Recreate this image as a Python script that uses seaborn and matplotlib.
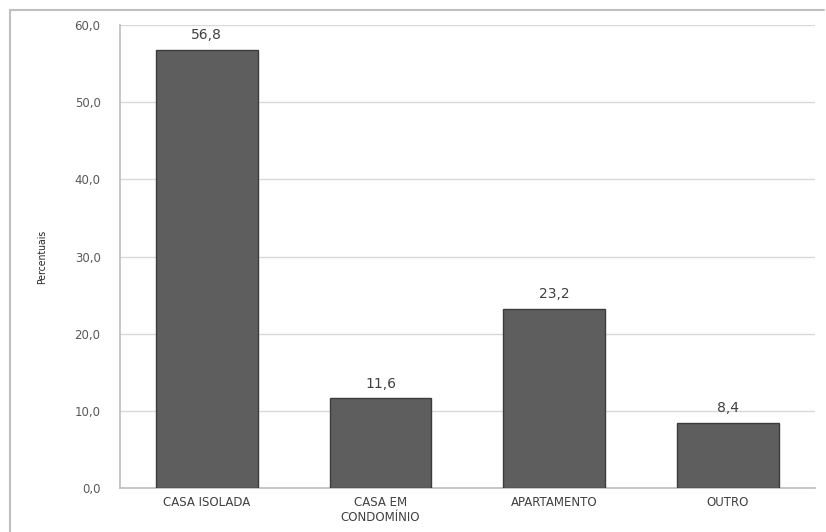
import matplotlib
matplotlib.use("Agg")
import matplotlib.pyplot as plt
from matplotlib.lines import Line2D
from matplotlib.ticker import FuncFormatter
import pandas as pd
import seaborn as sns

categories = ["CASA ISOLADA", "CASA EM\nCONDOMÍNIO", "APARTAMENTO", "OUTRO"]
values = [56.8, 11.6, 23.2, 8.4]
value_labels = ["56,8", "11,6", "23,2", "8,4"]
y_ticks = [0, 10, 20, 30, 40, 50, 60]

df = pd.DataFrame({"tipo": categories, "pct": values})

sns.set_theme(style="white")
plt.rcParams["font.family"] = ["DejaVu Sans"]

fig = plt.figure(figsize=(8.26, 5.32), dpi=100)
ax = fig.add_axes([0.1453, 0.0827, 0.841, 0.8703])

# outer chart frame (top and left edges only are visible)
fig.lines.append(Line2D([0.012, 0.998], [0.982, 0.982], transform=fig.transFigure,
                        color="#bfbfbf", linewidth=1.5))
fig.lines.append(Line2D([0.012, 0.012], [0.0, 0.982], transform=fig.transFigure,
                        color="#bfbfbf", linewidth=1.5))

sns.barplot(data=df, x="tipo", y="pct", color="#5e5e5e", width=0.586,
            edgecolor="#3c3c3c", linewidth=1.0, saturation=1, ax=ax, zorder=3)

for i, (v, lab) in enumerate(zip(values, value_labels)):
    ax.text(i, v + 1.0, lab, ha="center", va="bottom", fontsize=10, color="#404040")

ax.set_ylim(0, 60)
ax.set_xlim(-0.5, 3.5)
ax.set_yticks(y_ticks)
ax.yaxis.set_major_formatter(FuncFormatter(lambda v, p: f"{v:.1f}".replace(".", ",")))
ax.grid(axis="y", color="#d9d9d9", linewidth=1, zorder=0)
ax.set_axisbelow(True)

for side in ["top", "right"]:
    ax.spines[side].set_visible(False)
ax.spines["left"].set_color("#bfbfbf")
ax.spines["bottom"].set_color("#bfbfbf")

ax.tick_params(axis="y", labelsize=8.5, colors="#595959", pad=14, length=0)
ax.tick_params(axis="x", labelsize=8.5, colors="#404040", pad=6, length=0)
ax.set_xlabel("")
ax.set_ylabel("Percentuais", fontsize=7.5, fontstretch="condensed", color="#262626", labelpad=20)

fig.savefig("out.png", dpi=100)
